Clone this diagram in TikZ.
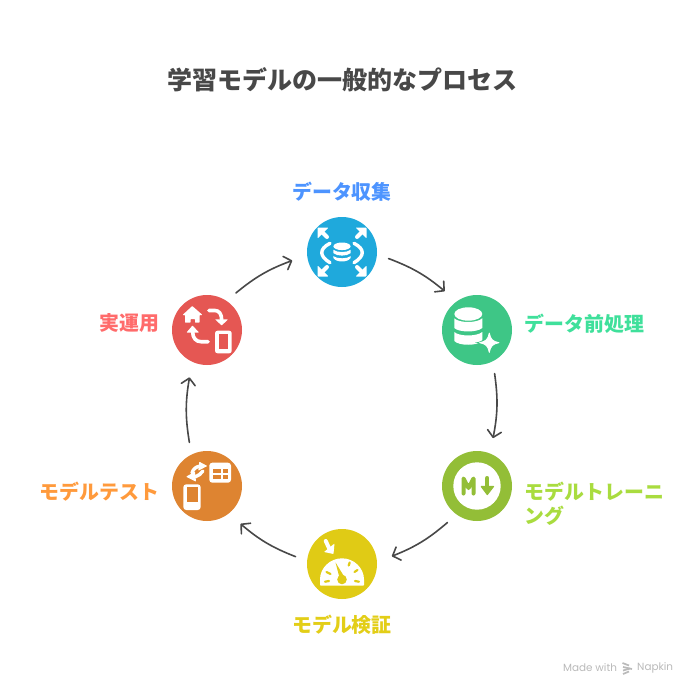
\documentclass[tikz,border=0pt]{standalone}
\usepackage{fontspec}
\setmainfont{Noto Sans CJK JP}
\newfontfamily\footfont{Poppins}
\usetikzlibrary{arrows.meta,bending}
\definecolor{cblue}{HTML}{1FA9DC}
\definecolor{cgreen}{HTML}{3EC686}
\definecolor{clime}{HTML}{93BE37}
\definecolor{cyellow}{HTML}{E0CB15}
\definecolor{corange}{HTML}{DE8431}
\definecolor{cred}{HTML}{E55753}
\definecolor{tblue}{HTML}{4D94FF}
\definecolor{tgreen}{HTML}{3FE09B}
\definecolor{tlime}{HTML}{A9DC3F}
\definecolor{tyellow}{HTML}{E3CE17}
\definecolor{torange}{HTML}{FF9A3C}
\definecolor{tred}{HTML}{FF6B6B}
\definecolor{ink}{HTML}{484848}
\tikzset{
  hub/.style={circle,fill=#1,minimum size=70pt,inner sep=0pt,outer sep=12pt,draw=none},
  conn/.style={draw=ink,line width=1.6pt,line cap=round,shorten >=3.5pt,
    -{Straight Barb[length=6.5pt,width=14pt,line width=1.6pt,round]}},
  lab/.style={font=\bfseries\fontsize{19.9}{24}\selectfont,inner sep=0pt},
  wl/.style={draw=white,line cap=round,line join=round},
  footlab/.style={inner sep=0pt,anchor=west,text=black!27,font=\footfont\fontsize{10.4}{13}\selectfont}
}
\begin{document}
\begin{tikzpicture}[x=1pt,y=-1pt]
\useasboundingbox (0,0) rectangle (696,696);
\fill[white] (0,0) rectangle (696,696);
\node[inner sep=0pt,text=ink,font=\bfseries\fontsize{25}{30}\selectfont] (title) at (342,80) {学習モデルの一般的なプロセス};
\node[hub=cblue] (c1) at (342,252) {};
\node[hub=cgreen] (c2) at (477,330) {};
\node[hub=clime] (c3) at (477,486) {};
\node[hub=cyellow] (c4) at (342,564) {};
\node[hub=corange] (c5) at (207,486) {};
\node[hub=cred] (c6) at (207,330) {};
\node[lab,text=tblue] (l1) at (342,191.5) {データ収集};
\node[lab,text=tgreen,anchor=west] (l2) at (524.5,323.5) {データ前処理};
\node[lab,text=tlime,anchor=west,align=left] (l3) at (524.5,503.5) {モデルトレーニ\\ング};
\node[lab,text=tyellow] (l4) at (342,624.5) {モデル検証};
\node[lab,text=torange,anchor=east] (l5) at (159.5,491.5) {モデルテスト};
\node[lab,text=tred,anchor=east] (l6) at (159.5,323.5) {実運用};
% connectors
\draw[conn] (c1.-8.5) to[bend left=10] (c2.129.5);
\draw[conn] (c2.-68) to[bend left=10] (c3.71);
\draw[conn] (c3.-129) to[bend left=10] (c4.8);
\draw[conn] (c4.171) to[bend left=10] (c5.-49);
\draw[conn] (c5.112) to[bend left=10] (c6.-111);
\draw[conn] (c6.52) to[bend left=10] (c1.189);
% blue icon
\begin{scope}[shift={(342,252)}]
  \foreach \a in {0,90,180,270}{
    \begin{scope}[rotate=\a]
      \draw[wl,line width=4pt] (15,15)--(20,20);
      \fill[white,rounded corners=.8pt] (24.5,24.5)--(13.5,24.5)--(24.5,13.5)--cycle;
    \end{scope}}
  \draw[wl,line width=3.4pt] (-12,-8.7) .. controls (-23,-3) and (-23,4) .. (-12,10.7);
  \draw[wl,line width=3.4pt] (12,-8.7) .. controls (23,-3) and (23,4) .. (12,10.7);
  \fill[white] (0,-5.7) ellipse (8.6 and 3.8);
  \fill[white] (-8.6,-2.2) .. controls (-5,.8) and (5,.8) .. (8.6,-2.2) -- (8.6,1.2) .. controls (5,4.4) and (-5,4.4) .. (-8.6,1.2) -- cycle;
  \fill[white] (-8.6,4.2) .. controls (-5,7) and (5,7) .. (8.6,4.2) -- (8.6,6) .. controls (6,10.6) and (-6,10.6) .. (-8.6,6) -- cycle;
\end{scope}
% green icon
\begin{scope}[shift={(477,330)}]
  \fill[white] (-8.7,-16) ellipse (14 and 6.7);
  \fill[white] (-22.7,-11.7) .. controls (-18,-6.8) and (0,-6.8) .. (5.3,-11.7) -- (5.3,-2) .. controls (0,2.6) and (-18,2.6) .. (-22.7,-2) -- cycle;
  \fill[white] (-22.7,2) .. controls (-18,6.6) and (0,6.6) .. (5.3,2) -- (5.3,11) .. controls (0,16) and (-18,16) .. (-22.7,11) -- cycle;
  \fill[cgreen] (12.3,-1.6) .. controls (14,8) and (17,11) .. (26.6,12.7) .. controls (17,14.4) and (14,17.4) .. (12.3,27) .. controls (10.6,17.4) and (7.6,14.4) .. (-2,12.7) .. controls (7.6,11) and (10.6,8) .. (12.3,-1.6) -- cycle;
  \fill[white,draw=white,line width=.8pt,line join=round] (12.3,3) .. controls (13.6,9.4) and (15.6,11.4) .. (22,12.7) .. controls (15.6,14) and (13.6,16) .. (12.3,22.4) .. controls (11,16) and (9,14) .. (2.6,12.7) .. controls (9,11.4) and (11,9.4) .. (12.3,3) -- cycle;
\end{scope}
% lime icon
\begin{scope}[shift={(477,486)}]
  \fill[white] (0,0) circle (23.7);
  \draw[clime,line width=4pt,line cap=round,line join=round] (-13.5,7.5)--(-13.5,-7.5)--(-8.5,2)--(-3.5,-7.5)--(-3.5,7.5);
  \draw[clime,line width=4pt,line cap=round] (10.3,-8)--(10.3,2);
  \fill[clime,draw=clime,line width=1.2pt,line join=round] (4.3,.5)--(16.5,.5)--(10.3,8.5)--cycle;
\end{scope}
% yellow icon
\begin{scope}[shift={(342,564)}]
  \fill[white,rounded corners=.8pt] (-22,21.7) -- (-22,16.3) arc[start angle=180,end angle=0,radius=22,y radius=-22] -- (22,21.7) -- cycle;
  \begin{scope}[cyellow,line width=2.2pt,line cap=round]
    \draw (-17,17.7)--(-13,17);
    \draw (-15.5,8)--(-11.5,10);
    \draw (6.7,1.5)--(7.7,-1.5);
    \draw (12.5,8)--(15.5,6);
    \draw (13,17)--(17,17.7);
  \end{scope}
  \fill[cyellow] (0,15.5) circle (4.8);
  \fill[cyellow] (-6.5,-1.6)--(-2.4,14)--(2.4,13)--cycle;
  \draw[wl,line width=4pt] (-16.3,-23)--(-12.5,-15);
  \fill[white,rounded corners=.6pt] (-8.5,-10)--(-18,-12)--(-7.5,-20.5)--cycle;
\end{scope}
% orange icon
\begin{scope}[shift={(207,486)}]
  \fill[white,rounded corners=3pt] (2.3,-23.3) rectangle (24,-3.3);
  \fill[corange] (5.5,-16.7) rectangle (14.3,-13.3);
  \fill[corange] (16,-16.7) rectangle (21,-13.3);
  \fill[corange] (5.5,-11) rectangle (14.3,-7);
  \fill[corange] (16,-11) rectangle (21,-7);
  \fill[white,rounded corners=3pt] (-23.7,-1.7) rectangle (-6.3,24);
  \fill[corange] (-20.3,1.3) rectangle (-9.3,15.7);
  % swap arrows
  \fill[white,rounded corners=.6pt] (-21,-9.3)--(-12,-14.3)--(-11,-4.3)--cycle;
  \draw[wl,line width=3.4pt] (-12,-9) .. controls (-8.5,-10) and (-6,-12.5) .. (-4,-15);
  \fill[white,rounded corners=.6pt] (0.3,-20)--(-7.7,-24.3)--(-8.7,-15.3)--cycle;
  \draw[wl,line width=3.4pt] (-8,-19.7) .. controls (-11.5,-19) and (-14,-16.5) .. (-15,-13);
\end{scope}
% red icon
\begin{scope}[shift={(207,330)}]
  \fill[white,rounded corners=.7pt] (-14.7,-24)--(-4.5,-15)--(-7.5,-15)--(-7.5,-7.3)--(-12,-7.3)--(-12,-11)--(-16.5,-11)--(-16.5,-7.3)--(-22,-7.3)--(-22,-15)--(-24.5,-15)--cycle;
  \draw[wl,line width=3.6pt] (2,-19.5) -- (8,-19.5) .. controls (12,-19.5) and (14.7,-16) .. (14.7,-10);
  \fill[white,rounded corners=.6pt] (8,-10.7)--(21,-10.7)--(14.7,-4.5)--cycle;
  \draw[wl,line width=3.6pt] (1,11.7) -- (-6,11.7) .. controls (-11,11.7) and (-14.3,8) .. (-14.3,2);
  \fill[white,rounded corners=.6pt] (-20.5,2.5)--(-8,2.5)--(-14.5,-4.5)--cycle;
  \fill[white,rounded corners=2.5pt] (8,.7) rectangle (24.7,23.3);
  \fill[cred] (12.3,4.3) rectangle (20.7,19.3);
\end{scope}
% footer
\node[footlab] (f1) at (563,668) {Made with};
\node[footlab] (f2) at (637,668) {Napkin};
\begin{scope}[draw=black!27,line width=1.7pt]
  \draw (622.5,663)--(629,665.5);
  \draw (623,667)--(632,669);
  \draw (623,670.5)--(630,668.5);
  \draw (623,674)--(629,671.5);
\end{scope}
\end{tikzpicture}
\end{document}
